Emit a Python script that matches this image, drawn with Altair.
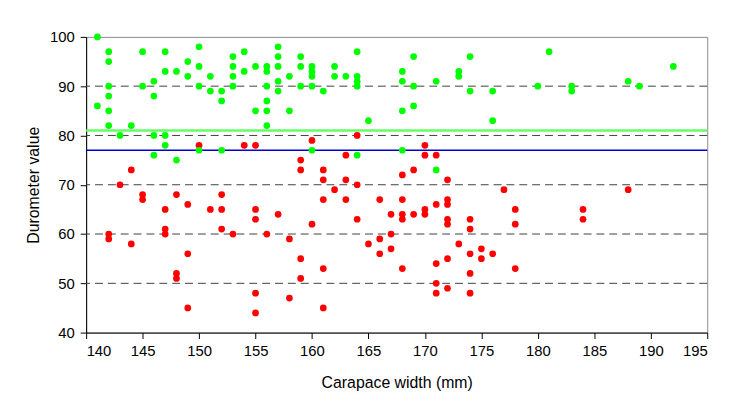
import altair as alt
import pandas as pd

# ---- data ----
green_pts = {
    141: [100, 86],
    142: [97, 95, 90, 88, 85, 82],
    143: [80],
    144: [82],
    145: [97, 90],
    146: [91, 88, 80, 76],
    147: [97, 93, 80, 78],
    148: [93, 75],
    149: [95, 92],
    150: [98, 94, 90, 77],
    151: [92, 89],
    152: [89, 87, 77],
    153: [96, 94, 92, 90],
    154: [97, 93],
    155: [94, 85],
    156: [94, 93, 90, 87, 85, 82],
    157: [98, 96, 94, 91, 89],
    158: [92, 85],
    159: [96, 94, 90],
    160: [94, 93, 92, 90, 77],
    161: [89],
    162: [94, 92],
    163: [92],
    164: [97, 92, 91, 90, 76],
    165: [83],
    168: [93, 91, 85, 77],
    169: [96, 90, 86],
    171: [91, 73],
    173: [93, 92],
    174: [96, 89],
    176: [89, 83],
    180: [90],
    181: [97],
    183: [90, 89],
    188: [91],
    189: [90],
    192: [94],
}

red_pts = {
    142: [60, 59],
    143: [70],
    144: [73, 58],
    145: [68, 67],
    147: [65, 61, 60],
    148: [68, 52, 51],
    149: [66, 56, 45],
    150: [78],
    151: [65],
    152: [68, 65, 61],
    153: [60],
    154: [78],
    155: [78, 65, 63, 48, 44],
    156: [60],
    157: [64],
    158: [59, 47],
    159: [75, 73, 55, 51],
    160: [79, 62],
    161: [73, 71, 67, 53, 45],
    162: [69],
    163: [76, 71, 67],
    164: [80, 70, 63],
    165: [58],
    166: [67, 59, 56],
    167: [64, 60, 57],
    168: [72, 67, 64, 63, 53],
    169: [73, 64],
    170: [78, 76, 65, 64],
    171: [76, 66, 54, 50, 48],
    172: [71, 67, 66, 63, 62, 55, 49],
    173: [58],
    174: [63, 61, 56, 52, 48],
    175: [57, 55],
    176: [56],
    177: [69],
    178: [65, 62, 53],
    184: [65, 63],
    188: [69],
}

grid_values = [50, 60, 70, 80, 90]
green_threshold = [81]
blue_threshold = [77]
x_ticks = list(range(140, 196, 5))
y_ticks = list(range(40, 101, 10))

# ---- tables ----
def to_df(d):
    xs, ys = [], []
    for k, vals in d.items():
        for v in vals:
            xs.append(k)
            ys.append(v)
    return pd.DataFrame({"width": xs, "durometer": ys})

green_df = to_df(green_pts)
red_df = to_df(red_pts)

FONT = "Liberation Sans"

xscale = alt.Scale(domain=[140, 195], nice=False, zero=False)
yscale = alt.Scale(domain=[40, 100], nice=False, zero=False)

x_axis = alt.Axis(values=x_ticks, title="Carapace width (mm)", grid=False,
                  tickSize=6, labelPadding=5, titlePadding=17,
                  domainColor="black", tickColor="black", labelColor="black",
                  titleColor="black", labelFont=FONT, titleFont=FONT,
                  labelFontSize=15, titleFontSize=16, titleFontWeight="normal")
y_axis = alt.Axis(values=y_ticks, title="Durometer value", grid=False,
                  tickSize=6, labelPadding=6, titlePadding=8,
                  domainColor="black", tickColor="black", labelColor="black",
                  titleColor="black", labelFont=FONT, titleFont=FONT,
                  labelFontSize=15, titleFontSize=16, titleFontWeight="normal")

def yenc(field):
    return alt.Y(field, scale=yscale, axis=y_axis, title="Durometer value")

grid = alt.Chart(pd.DataFrame({"v": grid_values})).mark_rule(
    strokeDash=[8, 5], color="#404040", strokeWidth=1
).encode(y=yenc("v:Q"))

gline = alt.Chart(pd.DataFrame({"v": green_threshold})).mark_rule(
    color="#66FF66", strokeWidth=2.5
).encode(y=yenc("v:Q"))

bline = alt.Chart(pd.DataFrame({"v": blue_threshold})).mark_rule(
    color="#0000CC", strokeWidth=1.3
).encode(y=yenc("v:Q"))

red = alt.Chart(red_df).mark_circle(size=46, color="#FF0000", opacity=1).encode(
    x=alt.X("width:Q", scale=xscale, axis=x_axis, title="Carapace width (mm)"),
    y=yenc("durometer:Q"),
)

green = alt.Chart(green_df).mark_circle(size=46, color="#00FF00", opacity=1).encode(
    x=alt.X("width:Q", scale=xscale, axis=x_axis, title="Carapace width (mm)"),
    y=yenc("durometer:Q"),
)

chart = alt.layer(grid, gline, bline, red, green).resolve_axis(y="shared").properties(
    width=628,
    height=299,
    autosize=alt.AutoSizeParams(type="none"),
    padding={"left": 79, "top": 27, "right": 21, "bottom": 71},
    background="white",
).configure_view(stroke="#8C8C8C", strokeWidth=1)

chart.save("out.html", embed_options={"renderer": "svg", "actions": False})
